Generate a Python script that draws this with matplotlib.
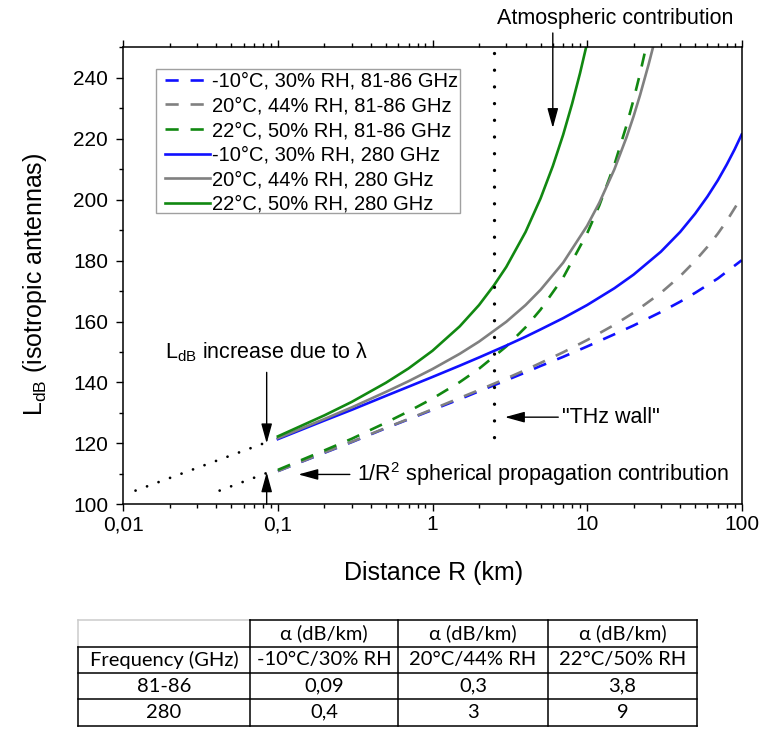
import matplotlib
matplotlib.use("Agg")
import matplotlib.pyplot as plt
from matplotlib.lines import Line2D
from matplotlib.patches import Rectangle
from matplotlib.ticker import FixedLocator, FixedFormatter, LogLocator, NullFormatter

plt.rcParams['font.family'] = ['Liberation Sans', 'DejaVu Sans']
plt.rcParams['mathtext.fontset'] = 'custom'
plt.rcParams['mathtext.rm'] = 'Liberation Sans'
plt.rcParams['mathtext.it'] = 'Liberation Sans:italic'

# ---------------- data ----------------
R_blue_280 = [0.1, 0.2, 0.3, 0.5, 0.7, 1, 1.5, 2, 3, 4, 5, 7, 10, 15, 20, 30, 40, 50, 60, 70, 80, 90, 100]
L_blue_280 = [121.4, 127.5, 131.0, 135.6, 138.6, 141.8, 145.5, 148.2, 152.1, 155.0, 157.4, 161.1,
              165.4, 170.9, 175.4, 182.9, 189.4, 195.4, 201.0, 206.3, 211.5, 216.5, 221.4]

R_gray_280 = [0.1, 0.2, 0.3, 0.5, 0.7, 1, 1.5, 2, 3, 4, 5, 7, 10, 12, 15, 18, 20, 22, 25, 27]
L_gray_280 = [121.7, 128.0, 131.8, 136.9, 140.4, 144.4, 149.4, 153.4, 159.9, 165.4, 170.4, 179.3,
              191.4, 199.0, 209.9, 220.5, 227.4, 234.3, 244.4, 251.0]

R_green_280 = [0.1, 0.2, 0.3, 0.5, 0.7, 1, 1.5, 2, 2.5, 3, 4, 5, 6, 7, 8, 9, 10]
L_green_280 = [122.3, 129.2, 133.6, 139.9, 144.6, 150.4, 158.4, 165.4, 171.9, 177.9, 189.4, 200.4,
               211.0, 221.3, 231.5, 241.5, 251.4]

R_blue_e = [0.1, 0.2, 0.3, 0.5, 0.7, 1, 1.5, 2, 3, 4, 5, 7, 10, 15, 20, 30, 40, 50, 70, 100]
L_blue_e = [110.9, 116.9, 120.4, 125.0, 127.9, 131.0, 134.5, 137.1, 140.7, 143.3, 145.4, 148.4,
            151.8, 155.8, 158.7, 163.1, 166.5, 169.4, 174.1, 180.1]

R_gray_e = [0.1, 0.2, 0.3, 0.5, 0.7, 1, 1.5, 2, 3, 4, 5, 7, 10, 15, 20, 30, 40, 50, 60, 70, 80, 100]
L_gray_e = [110.9, 117.0, 120.5, 125.1, 128.0, 131.2, 134.9, 137.5, 141.3, 144.1, 146.4, 149.9,
            153.9, 158.9, 162.9, 169.4, 174.9, 179.9, 184.5, 188.8, 193.0, 200.9]

R_green_e = [0.1, 0.2, 0.3, 0.5, 0.7, 1, 1.5, 2, 3, 4, 5, 7, 10, 12, 15, 18, 20, 22, 24.5]
L_green_e = [111.3, 117.7, 121.5, 126.8, 130.5, 134.7, 140.1, 144.5, 151.8, 158.1, 163.9, 174.4,
             188.9, 198.1, 211.4, 224.4, 232.9, 241.4, 251.8]

labels = ['-10°C, 30% RH, 81-86 GHz', '20°C, 44% RH, 81-86 GHz', '22°C, 50% RH, 81-86 GHz',
          '-10°C, 30% RH, 280 GHz', '20°C, 44% RH, 280 GHz', '22°C, 50% RH, 280 GHz']

# dotted extrapolations of the 1/R^2 term
R_dot_280 = [0.012, 0.085]
L_dot_280 = [104.5, 120.4]
R_dot_e = [0.042, 0.085]
L_dot_e = [104.5, 110.3]
# "THz wall" vertical dotted line
R_wall = [2.5, 2.5]
L_wall = [248.0, 120.2]

x_ticks = [0.01, 0.1, 1, 10, 100]
x_ticklabels = ['0,01', '0,1', '1', '10', '100']
y_ticks = [100, 120, 140, 160, 180, 200, 220, 240]
y_minor = [110, 130, 150, 170, 190, 210, 230, 250]

table_header = ['', 'α (dB/km)', 'α (dB/km)', 'α (dB/km)']
table_conditions = ['Frequency (GHz)', '-10°C/30% RH', '20°C/44% RH', '22°C/50% RH']
table_freqs = ['81-86', '280']
alpha_81_86 = ['0,09', '0,3', '3,8']
alpha_280 = ['0,4', '3', '9']

# ---------------- figure ----------------
W, H = 763, 735
fig = plt.figure(figsize=(W / 100, H / 100), dpi=100)
ax_l, ax_r, ax_t, ax_b = 123.3, 741.7, 47.3, 504.3
ax = fig.add_axes([ax_l / W, 1 - ax_b / H, (ax_r - ax_l) / W, (ax_b - ax_t) / H])

BLUE, GRAY, GREEN = '#1010ff', '#808080', '#118811'
lw = 1.9
dash = (0, (5, 4.5))

lines = []
lines += ax.plot(R_blue_e, L_blue_e, color=BLUE, lw=lw, ls=dash)
lines += ax.plot(R_gray_e, L_gray_e, color=GRAY, lw=lw, ls=dash)
lines += ax.plot(R_green_e, L_green_e, color=GREEN, lw=lw, ls=dash)
lines += ax.plot(R_blue_280, L_blue_280, color=BLUE, lw=lw)
lines += ax.plot(R_gray_280, L_gray_280, color=GRAY, lw=lw)
lines += ax.plot(R_green_280, L_green_280, color=GREEN, lw=lw)

ax.plot(R_dot_280, L_dot_280, color='black', lw=2.0, ls=(0, (0.01, 4.4)), dash_capstyle='round')
ax.plot(R_dot_e, L_dot_e, color='black', lw=2.0, ls=(0, (0.01, 4.4)), dash_capstyle='round')
ax.plot(R_wall, L_wall, color='black', lw=2.4, ls=(0, (0.01, 5.0)), dash_capstyle='round')

ax.set_xscale('log')
ax.set_xlim(0.01, 100)
ax.set_ylim(100, 250)
ax.xaxis.set_major_locator(FixedLocator(x_ticks))
ax.xaxis.set_major_formatter(FixedFormatter(x_ticklabels))
ax.xaxis.set_minor_locator(LogLocator(base=10, subs=[2, 3, 4, 5, 6, 7, 8, 9], numticks=20))
ax.xaxis.set_minor_formatter(NullFormatter())
ax.yaxis.set_major_locator(FixedLocator(y_ticks))
ax.yaxis.set_minor_locator(FixedLocator(y_minor))

ax.tick_params(which='both', direction='out', top=True, right=False, width=1.0, colors='black')
ax.tick_params(which='major', length=5, labelsize=15)
ax.tick_params(which='minor', length=3)
ax.tick_params(axis='y', which='major', pad=6)
ax.tick_params(axis='x', which='major', pad=3)
for sp in ax.spines.values():
    sp.set_linewidth(1.1)

ax.set_xlabel('Distance R (km)', fontsize=18, va='center')
ax.xaxis.set_label_coords(0.502, -0.150)
ax.set_ylabel(r'L$_{\mathrm{dB}}$ (isotropic antennas)', fontsize=18, va='center')
ax.yaxis.set_label_coords(-0.143, 0.482)

# legend (frame drawn separately)
leg = ax.legend(lines, labels, loc='upper left', bbox_to_anchor=(0.0674, 0.9464), frameon=False,
                fontsize=14.5, handlelength=2.24, handletextpad=0.1, labelspacing=0.28,
                borderpad=0, borderaxespad=0)
fig.add_artist(Rectangle((156 / W, 1 - 212.7 / H), (460 - 156) / W, (212.7 - 69.3) / H,
                         transform=fig.transFigure, fill=False, edgecolor='#a0a0a0', lw=1.0))

# annotations
ap = dict(arrowstyle='-|>,head_length=0.8,head_width=0.22', color='black', lw=1.0,
          shrinkA=0, shrinkB=0, mutation_scale=15)
ax.annotate('', xy=(6.0, 223.5), xytext=(6.0, 254.7), arrowprops=ap, annotation_clip=False)
ax.text(15.1, 259.6, 'Atmospheric contribution', fontsize=15.5, ha='center', va='center')

ax.annotate('', xy=(0.0846, 120.0), xytext=(0.0846, 143.3), arrowprops=ap)
ax.text(0.0186, 150.0, 'L$_{\\mathrm{dB}}$ increase due to λ', fontsize=15.5, ha='left', va='center')

ax.annotate('', xy=(0.0846, 110.5), xytext=(0.0846, 100.0), arrowprops=ap, annotation_clip=False)
ax.annotate('', xy=(0.1356, 109.8), xytext=(0.292, 109.8), arrowprops=ap)
ax.text(0.3248, 109.9, '1/R$^{\\mathrm{2}}$ spherical propagation contribution', fontsize=15.5,
        ha='left', va='center')

ax.annotate('', xy=(2.94, 128.6), xytext=(6.51, 128.6), arrowprops=ap)
ax.text(6.85, 128.6, '"THz wall"', fontsize=15.5, ha='left', va='center')

# ---------------- table ----------------
col_x = [78, 250, 398, 548, 697]
row_y = [620, 646.5, 673, 699, 725.5]

def fx(px):
    return px / W

def fy(py):
    return 1 - py / H

def hline(y, x0, x1, color='black'):
    fig.add_artist(Line2D([fx(x0), fx(x1)], [fy(y), fy(y)], transform=fig.transFigure,
                          color=color, lw=1.1, solid_capstyle='projecting'))

def vline(x, y0, y1, color='black'):
    fig.add_artist(Line2D([fx(x), fx(x)], [fy(y0), fy(y1)], transform=fig.transFigure,
                          color=color, lw=1.1, solid_capstyle='projecting'))

LIGHT = '#cccccc'
hline(row_y[0], col_x[0], col_x[1], LIGHT)
vline(col_x[0], row_y[0], row_y[1], LIGHT)
hline(row_y[0], col_x[1], col_x[-1])
for y in row_y[1:]:
    hline(y, col_x[0], col_x[-1])
vline(col_x[0], row_y[1], row_y[-1])
for x in col_x[1:]:
    vline(x, row_y[0], row_y[-1])

rows = [table_header, table_conditions,
        [table_freqs[0]] + alpha_81_86,
        [table_freqs[1]] + alpha_280]
tfont = ['Lato', 'DejaVu Sans']
for r, row in enumerate(rows):
    yc = (row_y[r] + row_y[r + 1]) / 2
    for c, txt in enumerate(row):
        xc = (col_x[c] + col_x[c + 1]) / 2
        fig.text(fx(xc), fy(yc), txt, ha='center', va='center', fontsize=14.5, family=tfont)

fig.savefig('out.png', dpi=100)
